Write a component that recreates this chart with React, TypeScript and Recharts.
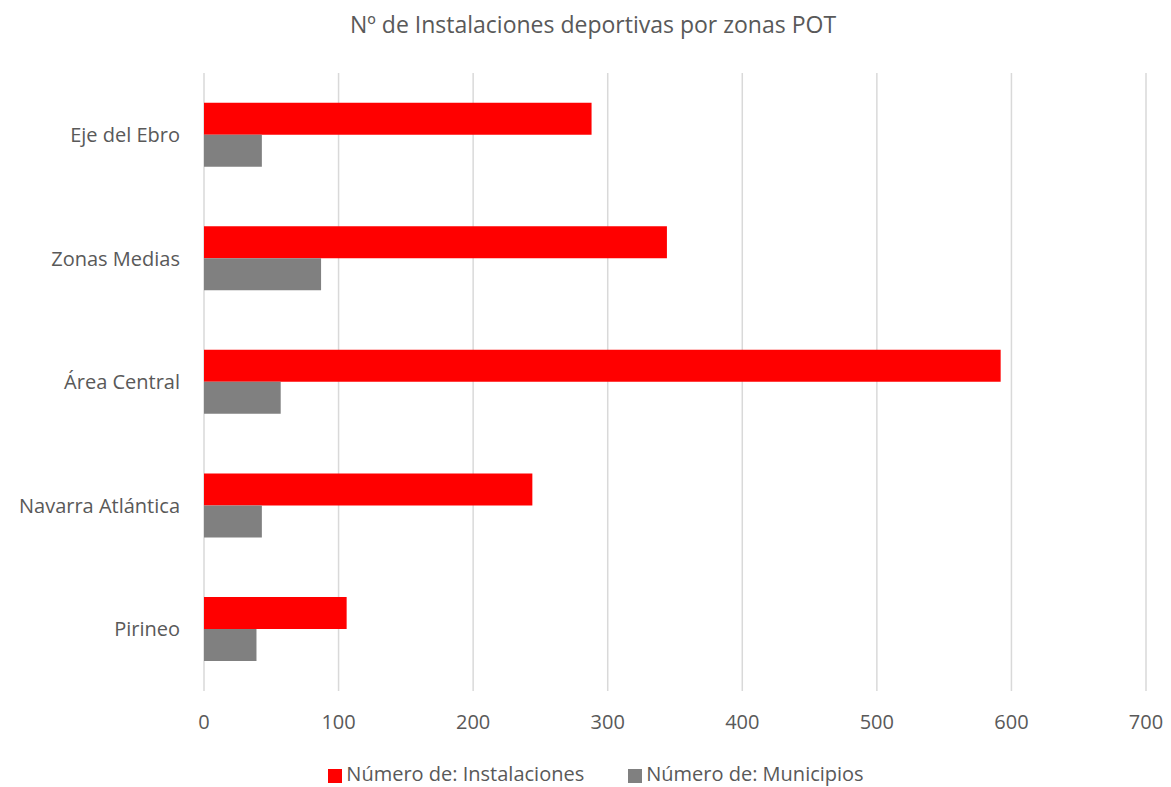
import { BarChart, Bar, XAxis, YAxis, CartesianGrid, Legend } from "recharts"

const zonas = ["Eje del Ebro", "Zonas Medias", "Área Central", "Navarra Atlántica", "Pirineo"]
const instalaciones = [288, 344, 592, 244, 106]
const municipios = [43, 87, 57, 43, 39]
const xTicks = [0, 100, 200, 300, 400, 500, 600, 700]

const data = zonas.map((zona, i) => ({
  zona,
  instalaciones: instalaciones[i],
  municipios: municipios[i],
}))

const FONT = "'Open Sans', sans-serif"
const TEXT = "#595959"

export default function App() {
  return (
    <div style={{ position: "absolute", left: 0, top: 0, width: 1171, height: 787, fontFamily: FONT, background: "#fff" }}>
      <div
        style={{
          position: "absolute",
          top: 8,
          left: 0,
          width: 1186,
          textAlign: "center",
          fontSize: 23,
          color: TEXT,
        }}
      >
        Nº de Instalaciones deportivas por zonas POT
      </div>
      <BarChart
        width={1171}
        height={787}
        data={data}
        layout="vertical"
        margin={{ top: 73, right: 25, bottom: 12, left: 0 }}
        barCategoryGap="24%"
        barGap={0}
      >
        <CartesianGrid horizontal={false} stroke="#d9d9d9" strokeWidth={1.5} />
        <XAxis
          type="number"
          domain={[0, 700]}
          ticks={xTicks}
          axisLine={false}
          tickLine={false}
          tickMargin={18}
          tick={{ fill: TEXT, fontSize: 20, fontFamily: FONT }}
          height={57}
        />
        <YAxis
          type="category"
          dataKey="zona"
          width={204}
          axisLine={false}
          tickLine={false}
          tickMargin={18}
          tick={{ fill: TEXT, fontSize: 20, fontFamily: FONT }}
        />
        <Legend
          verticalAlign="bottom"
          iconType="square"
          iconSize={14}
          wrapperStyle={{ fontSize: 20, fontFamily: FONT, left: 45, top: 760 }}
          formatter={(value) => <span style={{ color: TEXT, paddingRight: 34 }}>{value}</span>}
        />
        <Bar dataKey="instalaciones" name="Número de: Instalaciones" fill="#ff0000" isAnimationActive={false} />
        <Bar dataKey="municipios" name="Número de: Municipios" fill="#808080" isAnimationActive={false} />
      </BarChart>
    </div>
  )
}
